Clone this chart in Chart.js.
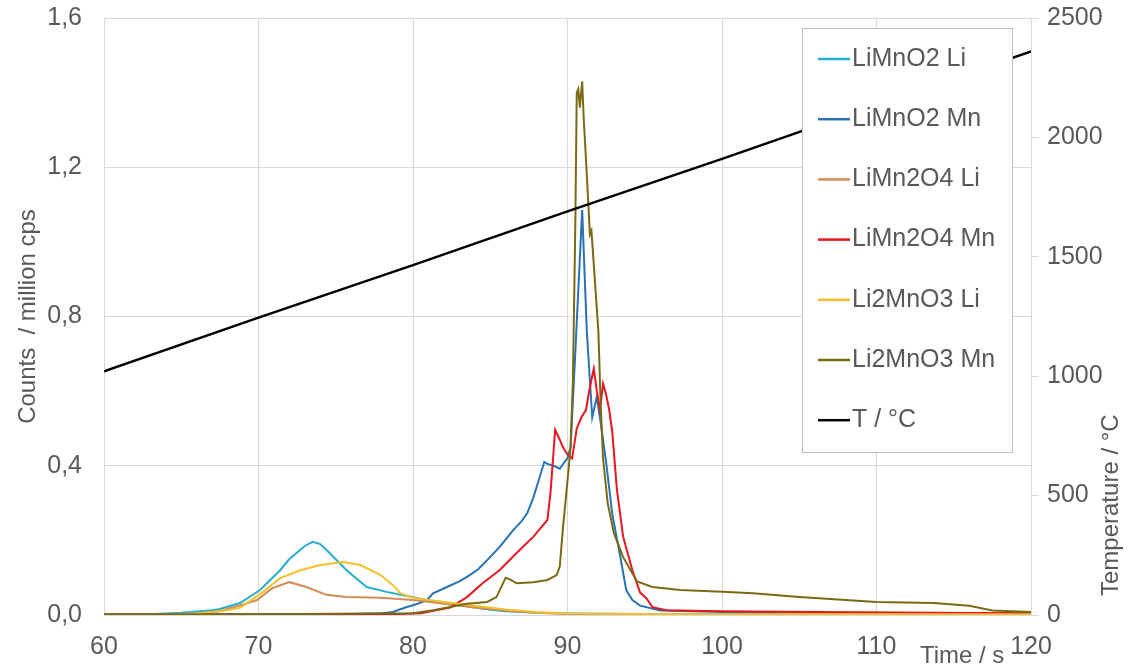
<!DOCTYPE html>
<html lang="en">
<head>
    <meta charset="UTF-8">
    <title>Counts and temperature vs time</title>
    <script src="https://cdn.jsdelivr.net/npm/chart.js"></script>
    <style>
        body { margin: 0; background: #fff; }
    </style>
</head>
<body>

<div style="width: 1136px; height: 668px;">
    <canvas id="chart"></canvas>
</div>

<script>
    // legend names and colours, in legend order
    const names = ['LiMnO2 Li', 'LiMnO2 Mn', 'LiMn2O4 Li', 'LiMn2O4 Mn', 'Li2MnO3 Li', 'Li2MnO3 Mn', 'T / °C'];
    const colors = ['#27aecb', '#2773b4', '#d28b55', '#e8161e', '#f2c12c', '#7b6a15', '#000000'];

    // values: time / s and counts / million cps
    const tLiMnO2Li = [60, 63, 65, 67, 67.5, 68.8, 70.1, 71.4, 72, 73, 73.5, 74, 74.6, 75.7, 77, 78.3, 79.2, 80.9, 82, 83, 84, 85, 86, 88, 90, 95, 100, 110, 120];
    const cLiMnO2Li = [0.001, 0.002, 0.006, 0.013, 0.016, 0.032, 0.067, 0.12, 0.15, 0.185, 0.196, 0.19, 0.166, 0.12, 0.075, 0.062, 0.054, 0.04, 0.034, 0.027, 0.02, 0.014, 0.01, 0.006, 0.004, 0.003, 0.003, 0.002, 0.002];

    const tLiMnO2Mn = [60, 70, 76, 78, 78.7, 79.5, 80.3, 80.9, 81.3, 82.2, 83, 83.5, 84.2, 84.8, 85.6, 86.5, 87, 87.4, 87.8, 88.2, 88.5, 88.7, 89.1, 89.5, 89.8, 90, 90.2, 90.5, 90.95, 91.25, 91.6, 91.9, 92.2, 92.5, 92.9, 93.4, 93.8, 94.2, 94.7, 96, 100, 110, 120];
    const cLiMnO2Mn = [0.002, 0.002, 0.003, 0.005, 0.008, 0.02, 0.03, 0.04, 0.058, 0.075, 0.09, 0.102, 0.122, 0.147, 0.182, 0.228, 0.25, 0.273, 0.316, 0.37, 0.41, 0.405, 0.4, 0.392, 0.41, 0.42, 0.45, 0.7, 1.085, 0.76, 0.53, 0.585, 0.5, 0.41, 0.27, 0.16, 0.067, 0.04, 0.025, 0.012, 0.008, 0.006, 0.005];

    const tLiMn2O4Li = [60, 64, 66, 67.5, 69, 69.9, 70.9, 72, 73.1, 74.4, 75.7, 77.9, 80, 82, 84, 86, 88, 90, 95, 100, 110, 120];
    const cLiMn2O4Li = [0.001, 0.001, 0.004, 0.01, 0.028, 0.04, 0.072, 0.088, 0.075, 0.054, 0.048, 0.046, 0.04, 0.03, 0.02, 0.012, 0.006, 0.003, 0.002, 0.002, 0.002, 0.002];

    const tLiMn2O4Mn = [60, 78, 80.5, 82.4, 83.5, 84.5, 85.6, 86.7, 87.8, 88.7, 88.9, 89.2, 89.5, 89.7, 90, 90.3, 90.6, 90.9, 91.2, 91.4, 91.7, 91.9, 92.1, 92.3, 92.5, 92.7, 92.9, 93.2, 93.6, 94.2, 94.7, 95.1, 95.5, 96.4, 100, 110, 120];
    const cLiMn2O4Mn = [0.001, 0.001, 0.005, 0.02, 0.048, 0.085, 0.12, 0.166, 0.21, 0.255, 0.327, 0.496, 0.47, 0.45, 0.43, 0.42, 0.5, 0.53, 0.55, 0.6, 0.66, 0.6, 0.55, 0.62, 0.59, 0.55, 0.49, 0.335, 0.21, 0.12, 0.06, 0.045, 0.021, 0.013, 0.01, 0.007, 0.005];

    const tLi2MnO3Li = [60, 64, 66, 67.5, 68.8, 70.3, 71.4, 72.7, 74, 75.5, 76.6, 77.9, 78.7, 79.2, 80, 81, 82, 84, 86, 88, 90, 95, 100, 110, 120];
    const cLi2MnO3Li = [0.001, 0.001, 0.004, 0.01, 0.019, 0.062, 0.099, 0.12, 0.134, 0.142, 0.134, 0.107, 0.08, 0.058, 0.046, 0.04, 0.035, 0.025, 0.015, 0.008, 0.004, 0.003, 0.002, 0.002, 0.002];

    const tLi2MnO3Mn = [60, 70, 80, 81.3, 83.5, 84.8, 85.4, 86, 86.3, 86.7, 87.8, 88.7, 89.3, 89.5, 89.7, 90, 90.2, 90.35, 90.5, 90.6, 90.7, 90.8, 90.95, 91.05, 91.25, 91.45, 91.55, 91.7, 92, 92.15, 92.3, 92.6, 93, 93.6, 94.5, 95.5, 97.3, 100, 102, 105, 108, 110, 113.7, 116, 117.5, 120];
    const cLi2MnO3Mn = [0.002, 0.002, 0.005, 0.013, 0.03, 0.035, 0.048, 0.1, 0.095, 0.085, 0.088, 0.094, 0.107, 0.13, 0.23, 0.36, 0.45, 0.63, 1.03, 1.4, 1.41, 1.36, 1.43, 1.33, 1.18, 1.02, 1.03, 0.94, 0.76, 0.56, 0.42, 0.3, 0.22, 0.155, 0.09, 0.075, 0.067, 0.062, 0.058, 0.048, 0.04, 0.035, 0.032, 0.025, 0.012, 0.008];

    // temperature / °C on the right axis
    const tTemp = [60, 70, 80, 90, 100, 110, 120];
    const temp = [1020, 1245, 1465, 1690, 1910, 2135, 2360];

    // tick labels
    const countTicks = ['0,0', '0,4', '0,8', '1,2', '1,6'];
    const tempTicks = ['0', '500', '1000', '1500', '2000', '2500'];

    const times = [tLiMnO2Li, tLiMnO2Mn, tLiMn2O4Li, tLiMn2O4Mn, tLi2MnO3Li, tLi2MnO3Mn, tTemp];
    const values = [cLiMnO2Li, cLiMnO2Mn, cLiMn2O4Li, cLiMn2O4Mn, cLi2MnO3Li, cLi2MnO3Mn, temp];

    const FONT = "'Liberation Sans', Arial, sans-serif";
    const GREY = '#595959';
    const GRID = '#d9d9d9';

    const datasets = names.map((name, i) => ({
        label: name,
        data: times[i].map((x, j) => ({ x: x, y: values[i][j] })),
        borderColor: colors[i],
        backgroundColor: colors[i],
        borderWidth: i === 6 ? 2.5 : 2,
        pointRadius: 0,
        tension: 0,
        yAxisID: i === 6 ? 'y2' : 'y',
        order: -i // later series drawn on top, like the original
    }));

    // legend box inside the plot and the right axis title (reads bottom to top)
    const boxLegend = {
        id: 'boxLegend',
        afterDraw(chart) {
            const ctx = chart.ctx;
            const area = chart.chartArea;
            const left = area.right - 229, top = area.top + 10, w = 210, h = 424;
            ctx.save();
            ctx.fillStyle = '#ffffff';
            ctx.fillRect(left, top, w, h);
            ctx.strokeStyle = '#bfbfbf';
            ctx.lineWidth = 1;
            ctx.strokeRect(left + 0.5, top + 0.5, w, h);
            ctx.font = '25px ' + FONT;
            ctx.textBaseline = 'middle';
            ctx.textAlign = 'left';
            chart.data.datasets.forEach((ds, i) => {
                const y = top + 31 + i * 60.2;
                ctx.strokeStyle = ds.borderColor;
                ctx.lineWidth = 2.5;
                ctx.beginPath();
                ctx.moveTo(left + 16, y);
                ctx.lineTo(left + 48, y);
                ctx.stroke();
                ctx.fillStyle = GREY;
                ctx.fillText(ds.label, left + 50, y);
            });

            ctx.translate(area.right + 80, area.bottom - 19);
            ctx.rotate(-Math.PI / 2);
            ctx.font = '24px ' + FONT;
            ctx.fillStyle = GREY;
            ctx.fillText('Temperature / °C', 0, 0);
            ctx.restore();
        }
    };

    // fixed axis sizes so the plot area sits where it does in the original
    const fitY = w => s => { s.width = w; s.paddingTop = 18; s.paddingBottom = 0; };

    const ctx = document.getElementById('chart').getContext('2d');
    new Chart(ctx, {
        type: 'line',
        data: { datasets: datasets },
        plugins: [boxLegend],
        options: {
            responsive: true,
            maintainAspectRatio: false,
            animation: false,
            layout: { padding: 0 },
            plugins: {
                legend: { display: false },
                tooltip: { enabled: false }
            },
            scales: {
                x: {
                    type: 'linear',
                    min: 60,
                    max: 120,
                    afterFit: s => { s.height = 53; },
                    ticks: {
                        stepSize: 10,
                        autoSkip: false,
                        maxRotation: 0,
                        padding: 17,
                        color: GREY,
                        font: { family: FONT, size: 25 }
                    },
                    grid: { color: GRID, drawTicks: false },
                    border: { display: false },
                    title: {
                        display: true,
                        text: 'Time / s    ',
                        align: 'end',
                        color: GREY,
                        padding: 0,
                        font: { family: FONT, size: 24, lineHeight: 1 }
                    }
                },
                y: {
                    position: 'left',
                    min: 0,
                    max: 1.6,
                    afterFit: fitY(104),
                    ticks: {
                        stepSize: 0.4,
                        padding: 22,
                        color: GREY,
                        font: { family: FONT, size: 25 },
                        callback: (v, i) => countTicks[i]
                    },
                    grid: { color: GRID, drawTicks: false },
                    border: { display: false },
                    title: {
                        display: true,
                        text: 'Counts  / million cps',
                        color: GREY,
                        padding: { top: 14, bottom: 0 },
                        font: { family: FONT, size: 24 }
                    }
                },
                y2: {
                    position: 'right',
                    min: 0,
                    max: 2500,
                    afterFit: fitY(105),
                    ticks: {
                        stepSize: 500,
                        padding: 8,
                        color: GREY,
                        font: { family: FONT, size: 25 },
                        callback: (v, i) => tempTicks[i]
                    },
                    grid: { color: GRID, drawOnChartArea: false, tickLength: 8 },
                    border: { display: true, color: GRID }
                }
            }
        }
    });
</script>
</body>
</html>
